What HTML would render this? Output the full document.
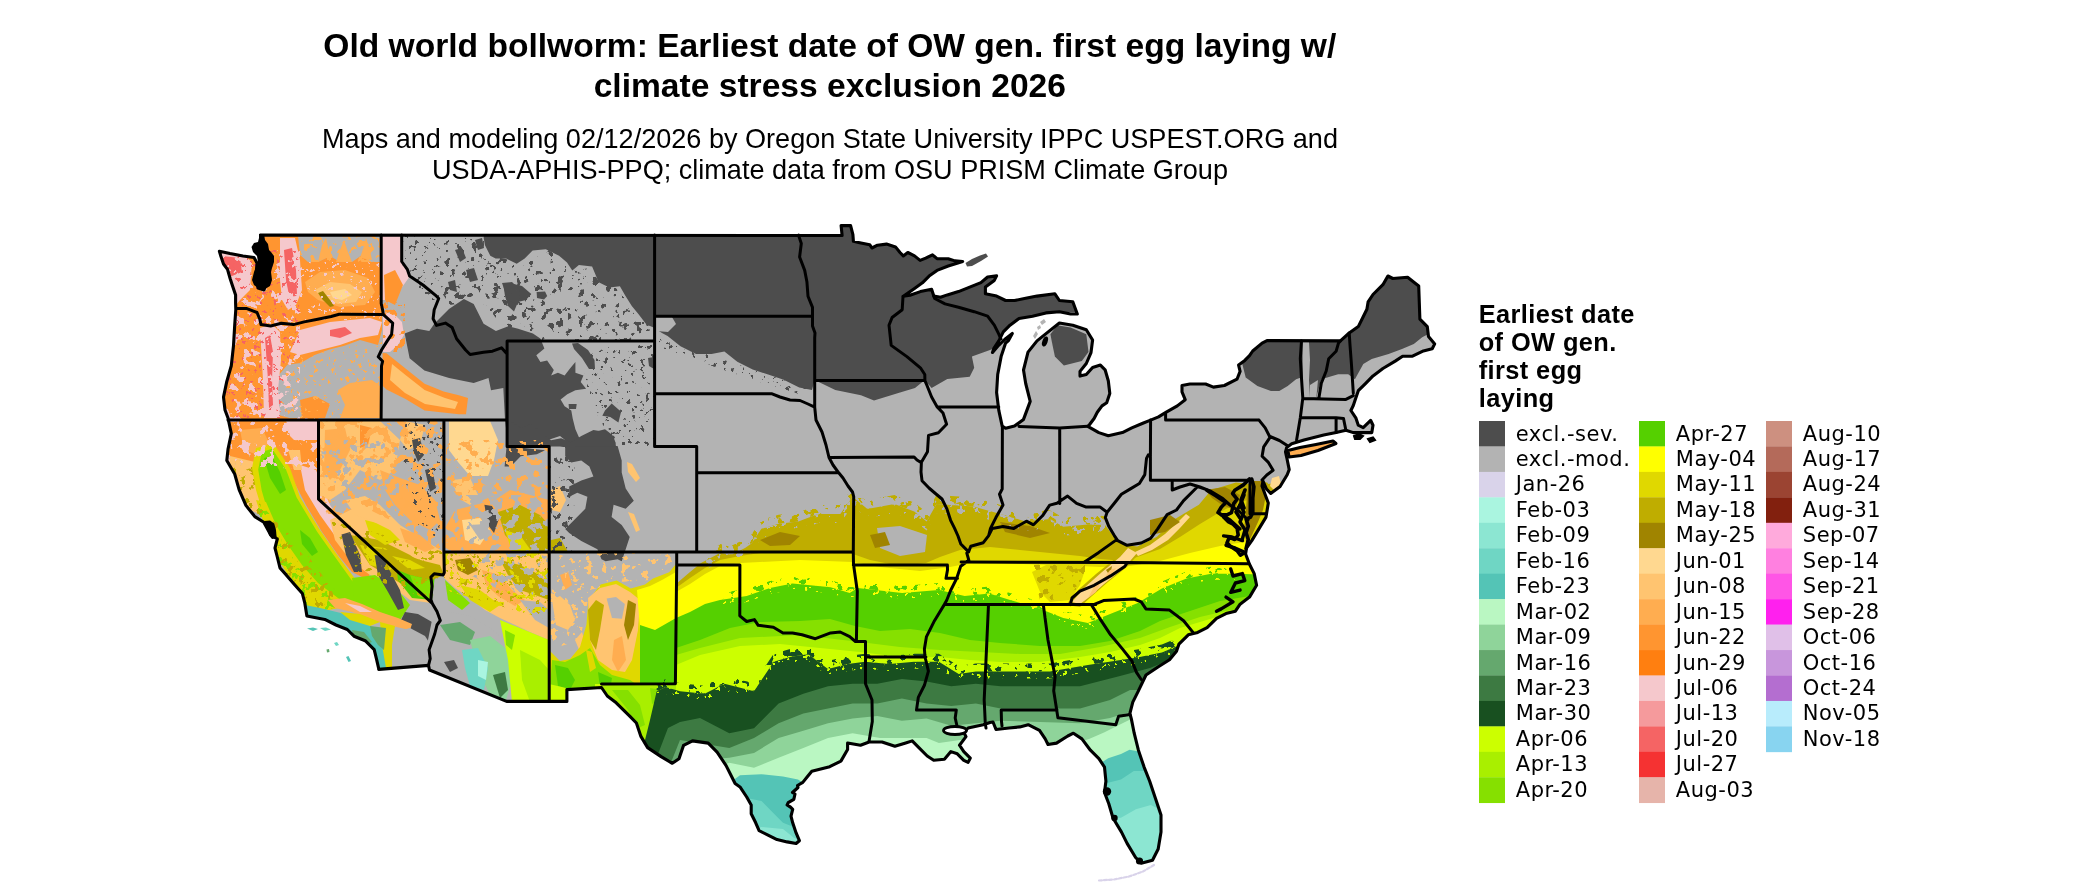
<!DOCTYPE html>
<html><head><meta charset="utf-8"><title>Old world bollworm</title>
<style>
html,body{margin:0;padding:0;background:#fff;width:2100px;height:892px;overflow:hidden}
svg{display:block}
text{-webkit-font-smoothing:antialiased}
.txt{will-change:transform}
.t{font-family:"Liberation Sans",Arial,sans-serif;font-weight:bold;font-size:33.6px;fill:#000}
.s{font-family:"Liberation Sans",Arial,sans-serif;font-size:27.08px;fill:#000}
.lt{font-family:"Liberation Sans",Arial,sans-serif;font-weight:bold;font-size:25.4px;letter-spacing:0.4px;fill:#000}
.lg{font-family:"DejaVu Sans",sans-serif;font-size:21px;letter-spacing:0.5px;fill:#000}
</style></head><body>
<svg width="2100" height="892" viewBox="0 0 2100 892">
<rect width="2100" height="892" fill="#fff"/>
<g class="txt"><text class="t" x="829.8" y="57.4" text-anchor="middle">Old world bollworm: Earliest date of OW gen. first egg laying w/</text>
<text class="t" x="829.8" y="97.4" text-anchor="middle">climate stress exclusion 2026</text>
<text class="s" x="830" y="147.6" text-anchor="middle">Maps and modeling 02/12/2026 by Oregon State University IPPC USPEST.ORG and</text>
<text class="s" x="830" y="179.3" text-anchor="middle">USDA-APHIS-PPQ; climate data from OSU PRISM Climate Group</text></g>
<defs><clipPath id="land"><path d="M260.5,235.1 L842.1,235.5 L841.1,225.6 L850.6,225.6 L852.9,234.6 L853.4,241.3 L858.5,242.4 L869.7,244.7 L871.9,248.0 L877.5,245.2 L886.5,244.1 L895.5,246.9 L900.0,252.5 L903.3,255.9 L907.8,252.5 L914.5,255.9 L920.1,260.4 L925.7,258.1 L932.5,254.8 L937.0,258.7 L948.2,258.7 L954.9,260.9 L962.7,261.5 L948.2,266.0 L937.0,270.4 L929.1,276.1 L922.4,282.8 L914.5,288.4 L903.3,296.2 L910.0,295.3 L920.4,291.6 L931.6,289.3 L933.8,296.1 L940.5,297.2 L947.3,294.9 L958.5,291.6 L969.7,287.1 L980.9,282.6 L987.6,277.0 L996.6,275.9 L994.3,280.4 L985.4,287.1 L985.4,293.8 L996.6,296.1 L1005.6,300.5 L1014.5,300.5 L1025.7,298.3 L1037.0,296.1 L1054.9,293.8 L1059.4,300.5 L1072.8,301.7 L1077.3,314.0 L1070.6,314.0 L1059.4,311.7 L1045.9,312.9 L1032.5,316.2 L1019.0,318.5 L1010.0,325.2 L1003.3,331.9 L998.8,340.9 L994.0,348.0 L992.5,352.5 L998.0,346.0 L1005.6,338.7 L1012.3,333.5 L1008.5,340.5 L1005.6,343.1 L1001.1,356.6 L997.7,374.5 L996.6,392.5 L998.8,410.4 L1002.2,426.1 L1005.6,428.3 L1014.5,426.1 L1023.5,419.4 L1030.2,401.4 L1025.7,383.5 L1023.5,370.0 L1028.0,352.1 L1037.0,340.9 L1048.2,331.9 L1059.4,323.0 L1072.8,325.2 L1086.3,329.7 L1092.6,340.0 L1091.0,352.6 L1086.3,363.5 L1080.0,371.4 L1080.0,376.1 L1086.3,374.5 L1092.6,367.5 L1100.4,365.1 L1105.1,369.8 L1108.3,380.8 L1109.8,393.4 L1106.7,402.8 L1102.0,405.9 L1097.3,412.2 L1094.1,418.5 L1089.4,424.8 L1087.8,426.3 L1098.8,432.6 L1108.3,435.8 L1122.4,432.6 L1131.8,427.9 L1142.8,423.2 L1150.6,420.1 L1158.5,416.9 L1166.3,412.2 L1177.3,405.9 L1185.2,399.7 L1182.0,391.8 L1182.0,385.5 L1189.9,384.0 L1205.6,384.0 L1213.4,387.1 L1224.4,385.5 L1237.0,379.2 L1240.1,371.4 L1238.6,365.1 L1244.8,360.4 L1249.5,355.7 L1252.7,351.0 L1262.1,343.1 L1267.0,340.6 L1340.4,340.9 L1349.2,333.0 L1358.3,326.6 L1363.2,316.7 L1366.9,309.3 L1368.1,301.9 L1373.0,294.5 L1382.9,284.7 L1387.9,276.0 L1392.8,278.5 L1407.6,277.3 L1418.7,285.9 L1419.9,319.2 L1427.3,326.6 L1428.5,336.5 L1434.7,343.9 L1432.2,348.8 L1422.4,351.3 L1412.5,356.2 L1402.6,356.2 L1395.2,361.1 L1382.9,368.5 L1373.0,375.9 L1365.7,383.3 L1358.3,390.7 L1355.8,398.1 L1353.3,405.5 L1350.9,410.5 L1355.8,417.8 L1358.3,425.2 L1363.2,427.7 L1368.1,422.8 L1370.6,420.3 L1373.0,425.2 L1371.8,432.6 L1365.7,432.6 L1353.3,432.6 L1345.9,430.2 L1336.1,432.6 L1323.7,435.1 L1304.0,440.0 L1291.7,443.7 L1286.7,447.4 L1285.5,452.0 L1286.7,457.3 L1289.2,469.6 L1287.2,474.7 L1280.1,486.5 L1270.7,493.5 L1266.5,489.0 L1263.0,481.0 L1262.0,486.0 L1265.5,495.5 L1268.3,503.0 L1266.0,517.1 L1258.9,528.9 L1251.8,540.6 L1246.5,548.0 L1245.6,554.0 L1249.5,564.2 L1254.2,573.6 L1256.6,585.3 L1249.5,597.1 L1240.1,604.2 L1235.4,611.2 L1226.0,613.6 L1216.5,618.3 L1207.1,627.7 L1197.7,632.4 L1188.3,634.8 L1178.9,644.2 L1176.5,651.3 L1169.5,659.8 L1158.0,667.0 L1146.0,675.0 L1138.4,690.8 L1132.8,702.1 L1129.9,713.4 L1131.4,719.1 L1134.2,733.2 L1138.4,750.2 L1144.1,767.1 L1149.7,781.2 L1155.4,798.2 L1161.0,815.1 L1161.0,832.1 L1158.2,849.0 L1152.5,860.3 L1141.2,863.2 L1135.6,857.5 L1127.1,843.4 L1121.5,832.1 L1113.0,818.0 L1108.8,803.8 L1104.5,792.5 L1105.9,781.2 L1104.5,767.1 L1098.9,758.6 L1090.4,750.2 L1081.9,738.9 L1073.4,733.2 L1067.8,736.0 L1056.5,743.1 L1048.0,744.5 L1045.2,738.9 L1039.5,730.4 L1028.2,724.7 L1019.8,726.9 L1009.0,728.0 L996.0,729.5 L993.0,722.0 L990.0,722.5 L983.2,724.7 L968.1,728.0 L963.8,732.3 L966.0,736.6 L959.5,745.2 L963.8,751.6 L970.3,758.1 L968.1,762.4 L963.8,760.3 L957.3,753.8 L950.9,751.6 L944.4,759.2 L933.7,760.3 L927.2,756.0 L918.6,747.3 L912.2,740.9 L905.7,743.0 L894.9,746.3 L882.0,742.0 L869.1,742.0 L860.5,745.2 L847.6,743.0 L847.6,749.5 L840.9,761.1 L829.7,766.7 L820.7,769.0 L811.8,771.2 L807.3,776.8 L802.8,782.4 L797.5,785.5 L798.0,787.5 L792.5,792.5 L795.0,794.0 L793.8,799.3 L788.2,802.6 L787.1,804.9 L790.5,807.1 L792.7,809.3 L791.0,816.1 L792.7,822.8 L796.1,832.9 L799.4,840.7 L796.1,843.5 L787.1,841.9 L777.0,839.6 L768.0,835.1 L759.1,830.7 L755.7,822.8 L751.2,813.8 L751.2,804.9 L746.7,797.0 L740.0,786.9 L735.1,783.5 L726.1,765.6 L717.1,752.1 L708.2,743.1 L692.5,740.9 L683.5,745.4 L679.0,758.8 L672.3,763.3 L661.1,756.6 L647.6,747.6 L640.9,736.4 L636.4,723.0 L629.7,716.2 L616.2,702.8 L607.3,696.0 L601.5,687.5 L566.9,689.6 L566.9,701.4 L506.6,701.4 L429.5,670.0 L428.5,665.4 L378.7,669.4 L378.7,668.7 L376.4,658.7 L374.2,649.7 L365.2,640.7 L354.0,636.2 L347.3,629.5 L336.0,625.0 L324.8,619.4 L306.9,616.0 L304.7,602.6 L302.4,593.6 L294.0,584.0 L286.2,574.9 L280.0,568.0 L277.3,557.0 L275.0,548.0 L277.3,539.0 L270.5,534.5 L263.8,522.2 L254.8,516.6 L245.9,505.4 L239.1,489.7 L234.7,474.0 L226.8,460.5 L228.0,449.3 L231.3,433.6 L228.0,418.0 L225.0,410.0 L223.5,397.1 L226.8,381.4 L231.3,365.7 L233.5,345.6 L234.7,325.4 L235.8,309.7 L235.6,303.0 L235.6,295.0 L232.9,286.9 L230.2,278.8 L227.5,269.4 L223.5,264.0 L220.8,256.0 L219.4,251.2 L230.0,253.5 L243.0,256.0 L254.0,257.5 L257.0,263.0 L256.0,276.0 L258.0,288.0 L264.0,290.0 L267.0,278.0 L270.0,264.0 L267.0,250.0 L262.0,240.0 L260.5,235.1Z"/></clipPath><filter id="sp1" x="0" y="0" width="1" height="1"><feTurbulence type="fractalNoise" baseFrequency="0.11" numOctaves="3" seed="3" result="n"/><feColorMatrix in="n" type="matrix" values="0 0 0 0 0 0 0 0 0 0 0 0 0 0 0 0 0 0 -30 13.20" result="m"/><feComposite in="SourceGraphic" in2="m" operator="in"/></filter><filter id="spA" x="0" y="0" width="1" height="1"><feTurbulence type="fractalNoise" baseFrequency="0.12" numOctaves="3" seed="13" result="n"/><feColorMatrix in="n" type="matrix" values="0 0 0 0 0 0 0 0 0 0 0 0 0 0 0 0 0 0 -30 12.60" result="m"/><feComposite in="SourceGraphic" in2="m" operator="in"/></filter><filter id="spB" x="0" y="0" width="1" height="1"><feTurbulence type="fractalNoise" baseFrequency="0.14" numOctaves="3" seed="7" result="n"/><feColorMatrix in="n" type="matrix" values="0 0 0 0 0 0 0 0 0 0 0 0 0 0 0 0 0 0 -30 11.40" result="m"/><feComposite in="SourceGraphic" in2="m" operator="in"/></filter><filter id="spC" x="0" y="0" width="1" height="1"><feTurbulence type="fractalNoise" baseFrequency="0.22" numOctaves="3" seed="11" result="n"/><feColorMatrix in="n" type="matrix" values="0 0 0 0 0 0 0 0 0 0 0 0 0 0 0 0 0 0 -30 10.20" result="m"/><feComposite in="SourceGraphic" in2="m" operator="in"/></filter><filter id="spD" x="0" y="0" width="1" height="1"><feTurbulence type="fractalNoise" baseFrequency="0.14" numOctaves="3" seed="5" result="n"/><feColorMatrix in="n" type="matrix" values="0 0 0 0 0 0 0 0 0 0 0 0 0 0 0 0 0 0 -30 13.80" result="m"/><feComposite in="SourceGraphic" in2="m" operator="in"/></filter><filter id="spE" x="0" y="0" width="1" height="1"><feTurbulence type="fractalNoise" baseFrequency="0.25" numOctaves="3" seed="17" result="n"/><feColorMatrix in="n" type="matrix" values="0 0 0 0 0 0 0 0 0 0 0 0 0 0 0 0 0 0 -30 10.80" result="m"/><feComposite in="SourceGraphic" in2="m" operator="in"/></filter><filter id="spG" x="0" y="0" width="1" height="1"><feTurbulence type="fractalNoise" baseFrequency="0.1" numOctaves="3" seed="23" result="n"/><feColorMatrix in="n" type="matrix" values="0 0 0 0 0 0 0 0 0 0 0 0 0 0 0 0 0 0 -30 13.80" result="m"/><feComposite in="SourceGraphic" in2="m" operator="in"/></filter><filter id="spH" x="0" y="0" width="1" height="1"><feTurbulence type="fractalNoise" baseFrequency="0.12" numOctaves="3" seed="29" result="n"/><feColorMatrix in="n" type="matrix" values="0 0 0 0 0 0 0 0 0 0 0 0 0 0 0 0 0 0 -30 12.60" result="m"/><feComposite in="SourceGraphic" in2="m" operator="in"/></filter></defs>
<g clip-path="url(#land)">
<rect x="200" y="200" width="1260" height="690" fill="#b3b3b3"/>
<path d="M483.7,220.0 L483.7,238.0 L485.0,245.2 L490.3,255.8 L495.6,258.5 L506.1,258.5 L516.7,263.7 L524.7,258.5 L532.6,250.5 L545.8,249.2 L559.1,255.8 L567.0,262.4 L572.3,270.4 L578.9,265.1 L592.1,266.4 L598.7,282.3 L609.3,287.6 L619.9,286.2 L625.2,295.5 L631.8,306.1 L638.4,314.0 L646.4,324.6 L653.0,327.2 L662.0,333.0 L667.6,335.9 L680.5,346.2 L696.0,354.0 L711.5,354.0 L724.4,351.4 L737.3,361.7 L752.7,369.4 L768.2,374.6 L783.7,379.7 L799.2,387.5 L812.0,390.0 L814.6,380.0 L835.3,390.0 L861.0,395.2 L874.0,400.4 L900.0,392.6 L915.0,388.0 L924.8,380.0 L931.6,388.0 L947.3,379.0 L969.7,376.8 L974.2,367.8 L971.9,356.6 L990.0,350.0 L1000.0,346.0 L1010.0,332.0 L1020.0,318.0 L1060.0,312.0 L1080.0,312.0 L1080.0,220.0Z" fill="#4d4d4d"/>
<path d="M404.7,333.6 L417.0,328.7 L429.3,331.1 L434.3,323.7 L449.0,308.9 L463.9,299.0 L473.7,304.0 L483.6,323.7 L495.9,331.1 L508.3,326.2 L518.1,328.7 L532.9,333.6 L540.3,338.5 L544.4,348.5 L536.3,355.2 L540.4,361.9 L547.1,360.6 L553.8,370.0 L551.1,375.4 L557.9,372.7 L564.6,375.4 L570.0,368.6 L575.4,361.9 L575.4,372.7 L583.4,375.4 L580.7,382.1 L586.1,388.8 L575.4,390.2 L567.3,394.2 L560.6,399.6 L564.6,406.3 L571.3,410.4 L572.7,418.4 L575.4,429.2 L580.7,441.3 L587.5,441.3 L594.2,431.9 L605.0,429.2 L611.7,434.6 L615.7,442.7 L615.7,447.0 L508.3,447.0 L505.0,420.0 L503.3,387.9 L491.0,390.3 L488.5,378.0 L473.7,382.9 L449.1,378.0 L424.4,370.6 L409.6,358.3Z" fill="#4d4d4d"/>
<path d="M503.5,286.0 L512.0,283.6 L522.0,286.0 L531.3,294.0 L526.0,300.0 L518.0,302.0 L514.0,311.4 L508.0,306.0 L505.0,296.0Z" fill="#4d4d4d"/>
<path d="M536.6,292.0 L545.0,291.5 L547.2,296.0 L544.0,299.5 L537.0,298.0Z" fill="#4d4d4d"/>
<path d="M572.0,343.5 L578.0,343.0 L588.0,350.0 L594.5,360.0 L595.0,369.0 L589.0,369.0 L582.0,358.0 L574.0,349.0Z" fill="#4d4d4d"/>
<path d="M605.0,410.4 L611.7,403.6 L621.1,411.7 L618.4,422.5 L610.3,417.1 L602.3,415.7Z" fill="#4d4d4d"/>
<path d="M648.0,358.0 L654.0,357.0 L654.0,369.0 L649.0,366.0Z" fill="#4d4d4d"/>
<path d="M568.6,404.0 L576.7,404.0 L576.0,409.0 L569.0,409.0Z" fill="#4d4d4d"/>
<path d="M512.0,432.0 L522.0,428.0 L530.0,436.0 L540.0,432.0 L548.0,440.0 L560.0,436.0 L570.0,444.0 L560.0,447.0 L515.0,447.0Z" fill="#b3b3b3"/>
<path d="M455.0,250.0 L462.0,248.0 L466.0,258.0 L460.0,262.0Z" fill="#4d4d4d"/>
<path d="M466.0,270.0 L474.0,268.0 L478.0,280.0 L470.0,282.0Z" fill="#4d4d4d"/>
<path d="M448.0,282.0 L455.0,280.0 L457.0,292.0 L450.0,290.0Z" fill="#4d4d4d"/>
<path d="M475.0,240.0 L482.0,238.0 L484.0,248.0 L478.0,250.0Z" fill="#4d4d4d"/>
<path d="M502.0,283.0 L512.0,282.0 L520.0,290.0 L518.0,305.0 L508.0,300.0Z" fill="#4d4d4d"/>
<path d="M589.7,438.0 L600.0,432.0 L614.3,436.0 L614.3,447.0 L589.7,447.0Z" fill="#4d4d4d"/>
<path d="M215.0,230.0 L382.0,230.0 L382.0,330.0 L378.0,345.0 L360.0,340.0 L344.5,345.7 L329.3,349.5 L314.1,355.2 L300.7,362.9 L287.4,364.8 L277.9,376.2 L274.0,380.0 L272.2,395.3 L276.0,414.3 L300.0,421.0 L300.0,440.0 L215.0,440.0Z" fill="#ff9530"/>
<path d="M298.0,236.0 L381.0,236.0 L381.0,262.0 L370.0,262.0 L362.0,255.0 L352.0,262.0 L340.0,262.0 L330.0,256.0 L318.0,262.0 L308.0,262.0 L300.0,255.0Z" fill="#b3b3b3"/>
<path d="M336.0,262.0 L340.0,250.0 L344.0,240.0 L348.0,252.0 L352.0,262.0Z" fill="#ffad50"/>
<path d="M318.0,262.0 L322.0,245.0 L326.0,238.0 L330.0,256.0Z" fill="#ffad50"/>
<path d="M360.0,258.0 L364.0,246.0 L366.0,238.0 L370.0,250.0 L372.0,260.0Z" fill="#ffad50"/>
<path d="M298.0,236.0 L381.0,236.0 L381.0,262.0 L298.0,262.0Z" fill="#ffad50" filter="url(#spA)"/>
<path d="M305.0,282.0 L320.0,272.0 L345.0,270.0 L368.0,278.0 L375.0,292.0 L365.0,305.0 L340.0,307.0 L318.0,300.0 L308.0,292.0Z" fill="#ffad50"/>
<path d="M315.0,290.0 L330.0,282.0 L350.0,284.0 L362.0,292.0 L356.0,302.0 L338.0,304.0 L322.0,298.0Z" fill="#ffc470"/>
<path d="M330.0,292.0 L345.0,289.0 L352.0,295.0 L342.0,300.0 L333.0,298.0Z" fill="#ffd890"/>
<path d="M318.0,293.0 L323.0,291.0 L330.0,300.0 L334.0,306.0 L330.0,307.0 L322.0,299.0Z" fill="#a08400"/>
<path d="M219.0,250.0 L245.0,256.0 L252.0,262.0 L250.0,290.0 L240.0,300.0 L236.0,305.0 L225.0,290.0 L220.0,262.0Z" fill="#f5c8cc"/>
<path d="M222.0,256.0 L240.0,258.0 L242.0,272.0 L232.0,276.0 L226.0,268.0Z" fill="#f56464"/>
<path d="M280.0,238.0 L295.0,238.0 L300.0,260.0 L302.0,290.0 L296.0,305.0 L288.0,310.0 L282.0,300.0 L280.0,280.0Z" fill="#f5c8cc"/>
<path d="M284.0,250.0 L292.0,248.0 L296.0,270.0 L297.0,295.0 L290.0,300.0 L286.0,280.0Z" fill="#f56464"/>
<path d="M382.0,236.0 L401.0,236.0 L401.0,261.0 L407.0,269.0 L410.0,276.0 L400.0,290.0 L392.0,300.0 L382.0,300.0Z" fill="#f5c8cc"/>
<path d="M384.0,275.0 L395.0,270.0 L403.0,285.0 L395.0,305.0 L385.0,300.0Z" fill="#ff9530"/>
<path d="M383.0,312.0 L394.0,314.0 L402.0,322.0 L404.0,335.0 L398.0,345.0 L390.0,352.0 L383.0,352.0Z" fill="#f5c8cc"/>
<path d="M383.0,300.0 L405.0,300.0 L405.0,352.0 L383.0,352.0Z" fill="#ff9530" filter="url(#spA)"/>
<path d="M260.0,328.0 L272.0,324.0 L280.0,332.0 L281.0,360.0 L278.0,390.0 L280.0,418.0 L264.0,418.0 L263.0,380.0Z" fill="#f5c8cc"/>
<path d="M265.0,338.0 L270.0,335.0 L273.0,352.0 L272.0,380.0 L273.0,405.0 L269.0,408.0 L268.0,380.0 L266.0,352.0Z" fill="#f56464"/>
<path d="M300.0,330.0 L330.0,322.0 L370.0,318.0 L382.0,322.0 L378.0,335.0 L360.0,338.0 L340.0,345.0 L320.0,350.0 L300.0,355.0 L290.0,352.0Z" fill="#f5c8cc"/>
<path d="M330.0,330.0 L345.0,327.0 L352.0,333.0 L340.0,338.0 L330.0,336.0Z" fill="#f56464"/>
<path d="M338.0,390.0 L350.0,383.0 L372.0,380.0 L380.0,386.0 L380.0,418.0 L340.0,418.0 L345.0,405.0Z" fill="#ffad50"/>
<path d="M300.0,400.0 L315.0,396.0 L330.0,404.0 L325.0,418.0 L302.0,418.0Z" fill="#ff9530"/>
<path d="M382.6,353.0 L386.5,353.3 L405.5,368.6 L424.6,383.8 L443.6,391.4 L458.9,395.3 L468.0,398.0 L466.0,414.3 L458.9,414.3 L424.6,410.5 L405.5,399.1 L386.5,389.5 L382.6,385.7Z" fill="#ff9530"/>
<path d="M392.0,364.0 L405.5,375.0 L424.6,390.0 L445.0,398.0 L458.0,402.0 L455.0,409.0 L425.0,404.0 L405.0,393.0 L390.0,380.0Z" fill="#ffc470"/>
<path d="M222.0,418.0 L318.5,418.0 L318.5,470.0 L300.0,470.0 L285.0,462.0 L270.0,470.0 L262.0,470.0 L250.0,478.0 L238.0,476.0 L226.0,462.0Z" fill="#ff9530"/>
<path d="M286.0,420.0 L318.5,420.0 L318.5,440.0 L300.0,446.0 L290.0,436.0Z" fill="#f5c8cc"/>
<path d="M240.0,430.0 L262.0,428.0 L270.0,445.0 L258.0,455.0 L244.0,450.0Z" fill="#ffad50"/>
<path d="M226.0,455.0 L255.0,462.0 L262.0,470.0 L266.0,500.0 L262.0,515.0 L250.0,510.0 L240.0,495.0 L232.0,478.0Z" fill="#ffc470"/>
<path d="M226.0,455.0 L266.0,455.0 L266.0,520.0 L226.0,520.0Z" fill="#bfad00" filter="url(#spA)"/>
<path d="M280.0,440.0 L318.5,440.0 L318.5,499.2 L340.0,520.0 L360.0,545.0 L372.0,565.0 L368.0,580.0 L352.0,572.0 L338.0,555.0 L322.0,532.0 L306.0,505.0 L292.0,478.0 L282.0,458.0Z" fill="#ff9530"/>
<path d="M300.0,465.0 L316.0,470.0 L330.0,505.0 L350.0,535.0 L362.0,556.0 L352.0,560.0 L338.0,540.0 L320.0,515.0 L305.0,490.0Z" fill="#f5c8cc"/>
<path d="M288.0,450.0 L300.0,450.0 L302.0,470.0 L294.0,470.0Z" fill="#ffc470"/>
<path d="M256.0,448.0 L274.0,444.0 L290.0,468.0 L300.0,497.0 L320.0,530.0 L338.0,556.0 L356.0,580.0 L370.0,594.0 L362.0,612.0 L338.0,606.0 L314.0,598.0 L292.0,576.0 L278.0,548.0 L264.0,516.0 L256.0,490.0 L252.0,468.0Z" fill="#e0d800"/>
<path d="M261.7,452.1 L272.1,448.7 L286.0,469.5 L296.5,497.3 L317.3,532.1 L334.7,556.4 L352.1,580.7 L366.0,594.6 L359.0,608.5 L338.2,601.6 L317.3,594.6 L296.5,573.8 L282.6,546.0 L268.7,514.7 L261.7,490.4 L258.2,469.5Z" fill="#86e000"/>
<path d="M264.0,458.0 L272.0,456.0 L280.0,472.0 L286.0,490.0 L280.0,494.0 L270.0,478.0Z" fill="#55d000"/>
<path d="M300.0,530.0 L310.0,538.0 L318.0,552.0 L312.0,556.0 L302.0,544.0Z" fill="#55d000"/>
<path d="M256.0,500.0 L266.0,502.0 L276.0,525.0 L288.0,545.0 L302.0,565.0 L318.0,583.0 L338.0,598.0 L348.0,606.0 L320.0,612.0 L306.0,614.0 L300.0,590.0 L286.0,572.0 L276.0,556.0 L268.0,536.0Z" fill="#e0d800"/>
<path d="M256.0,500.0 L300.0,545.0 L348.0,606.0 L300.0,614.0 L266.0,540.0Z" fill="#86e000" filter="url(#spA)"/>
<path d="M256.0,500.0 L300.0,545.0 L345.0,606.0 L300.0,614.0 L266.0,540.0Z" fill="#bfad00" filter="url(#spB)"/>
<path d="M330.0,520.0 L360.0,505.0 L400.0,525.0 L432.0,545.0 L444.0,552.0 L444.0,575.0 L432.0,578.0 L431.0,603.0 L410.0,600.0 L390.0,585.0 L370.0,575.0 L350.0,560.0 L335.0,540.0Z" fill="#ffc470"/>
<path d="M350.0,535.0 L380.0,540.0 L410.0,555.0 L430.0,570.0 L432.0,590.0 L415.0,592.0 L395.0,580.0 L370.0,565.0Z" fill="#bfad00"/>
<path d="M365.0,520.0 L385.0,525.0 L400.0,540.0 L385.0,545.0 L370.0,535.0Z" fill="#e0d800"/>
<path d="M400.0,528.0 L420.0,535.0 L435.0,548.0 L425.0,552.0 L405.0,542.0Z" fill="#ffad50"/>
<path d="M352.0,578.0 L375.0,575.0 L398.0,590.0 L410.0,605.0 L400.0,620.0 L375.0,620.0 L355.0,605.0Z" fill="#86e000"/>
<path d="M395.0,555.0 L420.0,560.0 L435.0,575.0 L432.0,600.0 L412.0,598.0 L398.0,580.0Z" fill="#55d000"/>
<path d="M360.0,545.0 L385.0,548.0 L400.0,560.0 L390.0,570.0 L370.0,565.0Z" fill="#e0d800"/>
<path d="M375.0,548.0 L400.0,552.0 L420.0,560.0 L440.0,565.0 L444.0,575.0 L432.0,580.0 L410.0,575.0 L385.0,565.0Z" fill="#bfad00"/>
<path d="M392.0,556.0 L410.0,560.0 L425.0,568.0 L410.0,570.0Z" fill="#e0d800"/>
<path d="M410.0,575.0 L432.0,580.0 L431.0,600.0 L418.0,596.0Z" fill="#86e000"/>
<path d="M341.5,534.5 L350.0,532.0 L360.0,555.0 L362.0,572.0 L354.0,572.0 L346.0,555.0Z" fill="#4d4d4d"/>
<path d="M374.6,555.0 L382.0,556.0 L392.0,575.0 L400.0,590.0 L404.0,608.0 L398.0,610.0 L388.0,592.0 L378.0,575.0Z" fill="#4d4d4d"/>
<path d="M405.0,612.0 L418.0,614.0 L432.0,622.0 L434.0,640.0 L425.0,644.0 L412.0,632.0 L400.0,622.0Z" fill="#4d4d4d"/>
<path d="M300.0,604.0 L320.0,608.0 L345.0,614.0 L362.0,620.0 L378.0,632.0 L388.0,648.0 L390.0,668.0 L376.0,668.0 L368.0,652.0 L356.0,642.0 L342.0,636.0 L328.0,630.0 L312.0,624.0 L303.0,618.0Z" fill="#54c4b6"/>
<path d="M330.0,626.0 L350.0,630.0 L362.0,640.0 L370.0,652.0 L365.0,656.0 L352.0,642.0 L338.0,634.0Z" fill="#6fd6c4"/>
<path d="M328.0,600.0 L345.0,598.0 L362.0,604.0 L380.0,612.0 L398.0,618.0 L412.0,624.0 L410.0,630.0 L392.0,626.0 L372.0,620.0 L352.0,612.0 L335.0,608.0Z" fill="#ffad50"/>
<path d="M345.0,603.0 L360.0,606.0 L372.0,612.0 L360.0,612.0Z" fill="#f5c8cc"/>
<path d="M340.0,612.0 L360.0,614.0 L380.0,622.0 L370.0,626.0 L350.0,620.0Z" fill="#e0d800"/>
<path d="M334.0,626.0 L346.0,628.0 L352.0,636.0 L344.0,640.0 L336.0,634.0Z" fill="#3d7a42"/>
<path d="M352.0,630.0 L364.0,632.0 L372.0,642.0 L362.0,646.0 L354.0,640.0Z" fill="#65a86e"/>
<path d="M395.0,632.0 L410.0,628.0 L425.0,636.0 L434.0,650.0 L430.0,666.0 L392.0,668.0 L390.0,648.0Z" fill="#b3b3b3"/>
<path d="M380.0,622.0 L395.0,626.0 L392.0,645.0 L392.0,668.0 L386.0,668.0 L382.0,645.0Z" fill="#e0d800"/>
<path d="M370.0,626.0 L386.0,628.0 L384.0,650.0 L378.0,645.0 L372.0,636.0Z" fill="#65a86e"/>
<path d="M432.0,620.0 L450.0,612.0 L470.0,616.0 L490.0,628.0 L505.0,640.0 L510.0,660.0 L515.0,700.0 L505.0,700.0 L430.0,670.0 L428.0,640.0Z" fill="#b3b3b3"/>
<path d="M440.0,625.0 L460.0,622.0 L475.0,632.0 L470.0,645.0 L450.0,640.0Z" fill="#65a86e"/>
<path d="M470.0,640.0 L490.0,636.0 L508.0,650.0 L512.0,680.0 L506.0,700.0 L490.0,695.0 L478.0,670.0Z" fill="#8fd49a"/>
<path d="M462.0,650.0 L478.0,648.0 L488.0,668.0 L484.0,690.0 L470.0,686.0 L465.0,668.0Z" fill="#6fd6c4"/>
<path d="M478.0,660.0 L488.0,662.0 L486.0,680.0 L478.0,676.0Z" fill="#aaf5e0"/>
<path d="M493.0,675.0 L505.0,672.0 L508.0,690.0 L500.0,698.0Z" fill="#3d7a42"/>
<path d="M444.0,662.0 L454.0,660.0 L458.0,668.0 L450.0,672.0Z" fill="#4d4d4d"/>
<path d="M444.0,552.0 L549.0,552.0 L549.0,640.0 L530.0,632.0 L515.0,625.0 L500.0,618.0 L485.0,610.0 L470.0,598.0 L455.0,588.0 L444.0,578.0Z" fill="#ffc470"/>
<path d="M500.0,560.0 L520.0,565.0 L540.0,575.0 L549.0,585.0 L549.0,600.0 L535.0,595.0 L520.0,590.0 L508.0,575.0Z" fill="#bfad00"/>
<path d="M455.0,560.0 L470.0,558.0 L478.0,570.0 L468.0,575.0 L458.0,570.0Z" fill="#a08400"/>
<path d="M460.0,585.0 L480.0,590.0 L500.0,605.0 L490.0,612.0 L470.0,600.0Z" fill="#e0d800"/>
<path d="M482.0,570.0 L500.0,575.0 L512.0,590.0 L525.0,600.0 L515.0,606.0 L498.0,596.0 L486.0,585.0Z" fill="#ffad50"/>
<path d="M520.0,600.0 L540.0,602.0 L549.0,610.0 L549.0,628.0 L535.0,620.0Z" fill="#b3b3b3"/>
<path d="M445.0,580.0 L458.0,592.0 L470.0,603.0 L462.0,610.0 L448.0,600.0Z" fill="#86e000"/>
<path d="M500.0,620.0 L520.0,628.0 L549.0,640.0 L549.0,702.0 L512.0,702.0 L508.0,660.0Z" fill="#ccff00"/>
<path d="M520.0,650.0 L540.0,660.0 L549.0,670.0 L549.0,702.0 L530.0,702.0 L522.0,680.0Z" fill="#a9ef00"/>
<path d="M505.0,630.0 L515.0,635.0 L512.0,650.0 L506.0,645.0Z" fill="#86e000"/>
<path d="M320.0,421.0 L380.0,421.0 L400.0,440.0 L395.0,470.0 L380.0,480.0 L360.0,470.0 L345.0,490.0 L330.0,500.0 L320.0,496.0Z" fill="#ffc470"/>
<path d="M325.0,430.0 L345.0,428.0 L350.0,450.0 L340.0,470.0 L330.0,480.0 L324.0,470.0Z" fill="#ffad50"/>
<path d="M360.0,425.0 L372.0,428.0 L368.0,445.0 L360.0,448.0Z" fill="#ff9530"/>
<path d="M405.0,421.0 L425.0,425.0 L420.0,445.0 L408.0,450.0 L400.0,440.0Z" fill="#ffc470"/>
<path d="M380.0,470.0 L400.0,478.0 L420.0,485.0 L435.0,500.0 L440.0,520.0 L430.0,530.0 L410.0,520.0 L395.0,505.0 L385.0,490.0Z" fill="#ffad50"/>
<path d="M345.0,500.0 L365.0,496.0 L380.0,505.0 L400.0,525.0 L390.0,530.0 L370.0,520.0 L355.0,515.0Z" fill="#ffc470"/>
<path d="M412.0,440.0 L420.0,438.0 L424.0,455.0 L418.0,462.0 L414.0,452.0Z" fill="#4d4d4d"/>
<path d="M425.0,470.0 L432.0,468.0 L436.0,488.0 L430.0,492.0Z" fill="#4d4d4d"/>
<path d="M449.0,421.0 L490.0,421.0 L498.0,440.0 L494.0,460.0 L488.0,476.0 L470.0,476.0 L458.0,462.0 L449.0,450.0Z" fill="#ffd890"/>
<path d="M452.0,480.0 L470.0,478.0 L478.0,495.0 L470.0,505.0 L458.0,498.0Z" fill="#ffc470"/>
<path d="M455.0,510.0 L475.0,505.0 L495.0,500.0 L510.0,490.0 L530.0,495.0 L549.0,500.0 L549.0,552.0 L444.0,552.0 L444.0,530.0Z" fill="#ffad50"/>
<path d="M498.0,512.0 L520.0,505.0 L540.0,515.0 L549.0,525.0 L549.0,552.0 L520.0,552.0 L505.0,535.0Z" fill="#bfad00"/>
<path d="M505.0,530.0 L520.0,535.0 L532.0,552.0 L512.0,552.0Z" fill="#e0d800"/>
<path d="M462.0,520.0 L480.0,518.0 L490.0,530.0 L480.0,545.0 L465.0,540.0Z" fill="#ffd890"/>
<path d="M470.0,525.0 L485.0,524.0 L492.0,535.0 L480.0,540.0Z" fill="#b3b3b3"/>
<path d="M506.6,446.2 L545.0,450.3 L536.9,454.3 L520.7,456.3 L510.6,466.4 L504.6,466.4Z" fill="#4d4d4d"/>
<path d="M484.4,504.8 L492.0,506.0 L498.5,520.0 L494.0,533.0 L488.0,525.0Z" fill="#4d4d4d"/>
<path d="M565.2,446.5 L581.3,446.0 L617.6,446.0 L621.7,460.4 L621.7,472.5 L625.7,488.6 L633.8,500.7 L625.7,508.8 L613.6,504.8 L611.6,516.9 L621.7,525.0 L629.7,537.1 L625.7,549.2 L621.7,561.3 L617.6,559.3 L605.5,561.3 L601.5,559.3 L597.4,549.2 L581.3,541.1 L569.2,533.0 L565.2,529.0 L573.2,520.9 L585.3,508.8 L587.4,496.7 L577.3,492.7 L569.2,496.7 L569.2,486.6 L581.3,480.6 L593.4,476.5 L589.4,466.4 L581.3,460.4 L571.2,462.4 L565.2,456.3Z" fill="#4d4d4d"/>
<path d="M627.0,462.0 L632.0,464.0 L640.0,478.0 L636.0,482.0 L628.0,472.0Z" fill="#ffc470"/>
<path d="M628.0,512.0 L634.0,514.0 L640.0,530.0 L636.0,532.0Z" fill="#ffc470"/>
<path d="M551.0,490.0 L560.0,486.0 L566.0,500.0 L560.0,512.0 L551.0,510.0Z" fill="#ffc470"/>
<path d="M551.0,540.0 L560.0,538.0 L568.0,552.0 L551.0,552.0Z" fill="#bfad00"/>
<path d="M508.6,420.0 L520.7,428.0 L530.8,424.0 L541.0,432.0 L551.0,440.2 L561.1,438.2 L571.2,442.2 L581.3,436.1 L593.4,430.1 L605.5,432.1 L613.6,438.2 L615.6,446.4 L508.6,446.4Z" fill="#4d4d4d"/>
<path d="M552.0,600.0 L560.0,596.0 L570.0,605.0 L575.0,620.0 L568.0,630.0 L556.0,625.0Z" fill="#ffc470"/>
<path d="M560.0,575.0 L568.0,572.0 L572.0,585.0 L565.0,590.0Z" fill="#ffad50"/>
<path d="M575.0,640.0 L582.0,632.0 L586.0,645.0 L580.0,652.0Z" fill="#ffc470"/>
<path d="M549.0,650.0 L560.0,661.0 L570.0,659.0 L580.0,647.0 L586.4,624.8 L588.4,600.6 L600.6,584.4 L616.7,580.4 L630.8,588.4 L645.0,584.4 L653.0,578.4 L669.2,572.3 L676.0,564.0 L676.0,702.0 L549.0,702.0Z" fill="#e0d800"/>
<path d="M588.0,598.0 L600.0,588.0 L616.0,584.0 L630.0,592.0 L640.0,600.0 L638.0,630.0 L632.0,660.0 L625.0,672.0 L612.0,670.0 L598.0,660.0 L590.0,640.0Z" fill="#ffc470"/>
<path d="M588.0,610.0 L596.0,600.0 L604.0,605.0 L600.0,630.0 L596.0,650.0 L590.0,640.0Z" fill="#bfad00"/>
<path d="M628.0,600.0 L636.0,604.0 L634.0,625.0 L628.0,640.0 L624.0,625.0Z" fill="#a08400"/>
<path d="M614.0,640.0 L622.0,636.0 L626.0,660.0 L618.0,672.0 L612.0,660.0Z" fill="#ffad50"/>
<path d="M606.6,598.5 L616.0,597.0 L624.8,604.0 L622.0,618.7 L612.0,618.0Z" fill="#b3b3b3"/>
<path d="M637.0,590.0 L650.0,586.0 L662.0,580.0 L676.0,572.0 L676.0,640.0 L664.0,645.0 L650.0,640.0 L640.0,630.0Z" fill="#ffff00"/>
<path d="M640.0,625.0 L655.0,630.0 L676.0,618.0 L676.0,690.0 L640.0,690.0Z" fill="#55d000"/>
<path d="M552.0,660.0 L565.0,662.0 L580.0,655.0 L590.0,648.0 L600.0,665.0 L612.0,675.0 L630.0,680.0 L645.0,690.0 L676.0,688.0 L676.0,702.0 L549.0,702.0Z" fill="#86e000"/>
<path d="M555.0,665.0 L568.0,668.0 L575.0,680.0 L570.0,690.0 L558.0,686.0Z" fill="#55d000"/>
<path d="M598.0,672.0 L612.0,678.0 L610.0,690.0 L600.0,688.0Z" fill="#55d000"/>
<path d="M586.0,650.0 L592.0,652.0 L596.0,668.0 L590.0,672.0Z" fill="#e0d800"/>
<path d="M549.0,684.0 L566.0,688.0 L566.0,702.0 L549.0,702.0Z" fill="#ccff00"/>
<path d="M595.0,900.0 L595.0,684.0 L676.0,684.0 L676.0,584.0 L676.0,584.0 L690.0,572.0 L701.0,563.0 L720.0,552.9 L731.5,554.8 L739.0,551.0 L745.0,548.0 L751.5,543.6 L761.4,528.8 L778.6,523.8 L798.4,521.4 L818.1,514.0 L840.3,514.0 L852.6,496.7 L867.4,509.0 L894.5,504.1 L914.3,511.5 L926.6,521.4 L936.5,504.1 L973.5,506.6 L1000.6,514.0 L1025.3,521.4 L1049.9,518.9 L1063.3,526.8 L1087.9,524.4 L1105.0,525.0 L1112.6,535.0 L1125.0,545.0 L1137.2,546.6 L1157.0,536.7 L1174.2,519.4 L1198.9,504.7 L1211.2,489.9 L1235.9,482.5 L1260.5,484.9 L1300.0,480.0 L1300.0,900.0Z" fill="#bfad00"/>
<path d="M877.0,528.0 L900.0,526.0 L927.0,535.0 L925.0,552.0 L900.0,556.0 L880.0,548.0Z" fill="#b3b3b3"/>
<path d="M870.0,535.0 L885.0,532.0 L890.0,545.0 L875.0,548.0Z" fill="#a08400"/>
<path d="M1000.0,522.0 L1030.0,526.0 L1050.0,533.0 L1030.0,538.0 L1005.0,532.0Z" fill="#a08400"/>
<path d="M760.0,540.0 L780.0,532.0 L800.0,536.0 L790.0,545.0 L770.0,546.0Z" fill="#a08400"/>
<path d="M595.0,900.0 L595.0,684.0 L676.0,684.0 L676.0,588.0 L676.0,588.0 L690.0,578.0 L705.0,568.0 L720.0,560.0 L740.0,556.0 L760.0,553.0 L800.0,553.0 L853.0,554.0 L870.0,560.0 L900.0,566.0 L926.0,563.0 L940.0,557.0 L960.0,550.0 L990.0,547.0 L1020.0,550.0 L1050.0,553.0 L1080.0,556.0 L1100.0,559.0 L1125.0,561.0 L1140.0,556.0 L1160.0,549.0 L1180.0,537.0 L1200.0,524.0 L1220.0,512.0 L1240.0,502.0 L1260.0,497.0 L1300.0,495.0 L1300.0,900.0Z" fill="#e0d800"/>
<path d="M595.0,900.0 L595.0,684.0 L676.0,684.0 L676.0,592.0 L676.0,592.0 L690.0,584.0 L705.0,574.0 L720.0,566.0 L740.0,563.0 L760.0,562.0 L800.0,560.0 L853.0,562.0 L880.0,567.0 L920.0,571.0 L950.0,567.0 L970.0,563.0 L1000.0,563.0 L1050.0,565.0 L1080.0,566.0 L1100.0,567.0 L1130.0,566.0 L1160.0,561.0 L1190.0,553.0 L1220.0,546.0 L1250.0,541.0 L1300.0,540.0 L1300.0,900.0Z" fill="#ffff00"/>
<path d="M1032.0,572.0 L1050.0,563.0 L1080.0,562.0 L1085.0,570.0 L1080.0,585.0 L1070.0,600.0 L1050.0,602.0 L1040.0,592.0Z" fill="#e0d800"/>
<path d="M1032.0,565.0 L1085.0,562.0 L1085.0,600.0 L1040.0,600.0Z" fill="#bfad00" filter="url(#spA)"/>
<path d="M595.0,900.0 L595.0,684.0 L676.0,684.0 L676.0,618.0 L676.0,618.0 L690.0,612.0 L705.0,604.0 L720.0,600.0 L746.7,596.0 L770.0,588.0 L792.5,583.4 L830.6,587.2 L849.7,592.9 L857.6,588.0 L902.0,593.0 L939.0,590.0 L964.7,595.9 L989.3,593.4 L1010.0,600.0 L1038.6,608.2 L1063.3,618.0 L1087.9,623.0 L1112.6,613.1 L1137.2,603.3 L1161.9,588.5 L1186.5,578.6 L1211.2,573.7 L1235.9,573.7 L1300.0,576.0 L1300.0,900.0Z" fill="#55d000"/>
<path d="M595.0,900.0 L595.0,684.0 L676.0,684.0 L676.0,648.0 L676.0,648.0 L700.0,640.0 L730.0,628.0 L760.0,622.0 L800.0,621.0 L830.0,619.0 L855.0,626.0 L880.0,631.0 L910.0,629.0 L940.0,633.0 L970.0,640.0 L1000.0,643.0 L1040.0,646.0 L1080.0,646.0 L1110.0,641.0 L1140.0,631.0 L1160.0,621.0 L1190.0,611.0 L1220.0,601.0 L1250.0,596.0 L1300.0,596.0 L1300.0,900.0Z" fill="#86e000"/>
<path d="M595.0,900.0 L595.0,684.0 L676.0,684.0 L676.0,655.0 L676.0,655.0 L700.0,648.0 L740.0,638.0 L800.0,635.0 L860.0,642.0 L900.0,647.0 L940.0,650.0 L980.0,652.0 L1020.0,654.0 L1060.0,654.0 L1100.0,647.0 L1140.0,638.0 L1170.0,627.0 L1200.0,617.0 L1230.0,610.0 L1300.0,610.0 L1300.0,900.0Z" fill="#a9ef00"/>
<path d="M595.0,900.0 L595.0,684.0 L676.0,684.0 L676.0,665.0 L676.0,665.0 L700.0,655.0 L740.0,646.0 L780.0,644.0 L820.0,648.0 L860.0,652.0 L900.0,657.0 L940.0,657.0 L970.0,660.0 L1000.0,662.0 L1040.0,662.0 L1080.0,657.0 L1110.0,652.0 L1140.0,645.0 L1160.0,638.0 L1180.0,628.0 L1200.0,622.0 L1220.0,616.0 L1300.0,616.0 L1300.0,900.0Z" fill="#ccff00"/>
<path d="M600.0,684.0 L676.0,684.0 L676.0,700.0 L660.0,705.0 L656.0,720.0 L650.0,745.0 L640.0,740.0 L630.0,718.0 L615.0,702.0 L604.0,692.0Z" fill="#a9ef00"/>
<path d="M612.0,690.0 L628.0,690.0 L640.0,705.0 L645.0,725.0 L638.0,728.0 L628.0,710.0Z" fill="#86e000"/>
<path d="M650.0,688.0 L662.0,690.0 L660.0,700.0 L652.0,704.0Z" fill="#86e000"/>
<path d="M595.0,800.0 L640.0,760.0 L650.0,720.0 L656.6,691.6 L665.6,687.1 L680.0,691.2 L704.7,693.7 L724.4,683.8 L754.0,691.2 L773.7,661.7 L791.0,656.7 L808.2,654.3 L828.0,669.0 L847.7,664.1 L865.0,661.7 L889.6,664.1 L914.3,661.7 L938.9,661.7 L958.7,674.0 L975.9,671.5 L1000.6,671.5 L1049.9,671.5 L1087.9,664.9 L1137.2,657.5 L1161.9,652.6 L1180.0,645.0 L1300.0,645.0 L1300.0,900.0 L595.0,900.0Z" fill="#185020"/>
<path d="M595.0,810.0 L650.0,775.0 L668.0,728.0 L680.0,722.0 L700.0,718.0 L729.3,733.2 L754.0,728.2 L778.6,703.6 L803.3,693.7 L828.0,686.3 L852.6,683.8 L877.3,683.8 L901.9,678.9 L926.6,681.4 L951.3,686.3 L975.9,683.8 L1000.6,686.3 L1080.0,686.3 L1120.0,676.0 L1150.0,668.0 L1170.0,660.0 L1300.0,660.0 L1300.0,900.0 L595.0,900.0Z" fill="#3d7a42"/>
<path d="M595.0,820.0 L660.0,790.0 L680.0,740.0 L729.3,748.0 L754.0,738.1 L778.6,723.3 L803.3,713.4 L828.0,708.5 L852.6,703.6 L877.3,703.6 L901.9,698.6 L926.6,703.6 L951.3,706.0 L975.9,703.6 L1000.6,708.5 L1080.0,708.5 L1110.0,700.0 L1130.0,690.0 L1300.0,690.0 L1300.0,900.0 L595.0,900.0Z" fill="#65a86e"/>
<path d="M595.0,830.0 L680.0,790.0 L700.0,760.0 L729.3,757.8 L754.0,752.9 L778.6,738.1 L803.3,730.7 L828.0,723.3 L852.6,718.4 L877.3,715.9 L901.9,720.8 L926.6,718.4 L951.3,725.8 L1000.6,720.8 L1080.0,723.3 L1110.0,718.0 L1130.0,712.0 L1300.0,712.0 L1300.0,900.0 L595.0,900.0Z" fill="#8fd49a"/>
<path d="M595.0,840.0 L700.0,775.0 L729.3,762.8 L754.0,767.7 L778.6,757.8 L803.3,748.0 L828.0,738.1 L852.6,733.2 L880.0,738.0 L926.6,738.1 L938.9,743.0 L960.0,740.0 L1000.0,740.0 L1040.0,745.0 L1060.0,748.0 L1089.0,739.0 L1104.0,732.6 L1125.0,722.0 L1133.8,717.7 L1300.0,717.0 L1300.0,900.0 L595.0,900.0Z" fill="#baf7c2"/>
<path d="M595.0,850.0 L720.0,790.0 L740.0,775.3 L761.5,774.2 L783.0,776.4 L798.0,779.6 L830.0,800.0 L900.0,800.0 L1000.0,800.0 L1090.0,770.0 L1108.2,758.2 L1121.0,754.0 L1129.5,749.7 L1140.0,751.8 L1300.0,752.0 L1300.0,900.0 L595.0,900.0Z" fill="#54c4b6"/>
<path d="M595.0,860.0 L740.0,796.8 L761.5,801.1 L772.3,811.9 L783.0,822.7 L793.8,827.0 L830.0,830.0 L1000.0,830.0 L1100.0,790.0 L1104.0,783.8 L1121.0,779.5 L1133.8,771.0 L1146.5,771.0 L1300.0,771.0 L1300.0,900.0 L595.0,900.0Z" fill="#6fd6c4"/>
<path d="M595.0,870.0 L761.5,827.0 L783.0,829.1 L793.8,837.7 L830.0,850.0 L1100.0,850.0 L1115.0,818.0 L1121.0,817.8 L1135.9,809.3 L1150.8,805.0 L1159.3,809.3 L1300.0,809.0 L1300.0,900.0 L595.0,900.0Z" fill="#8ce6d2"/>
<path d="M1230.0,330.0 L1242.3,364.1 L1245.7,377.6 L1257.4,386.0 L1270.9,391.0 L1279.3,391.0 L1287.7,386.0 L1296.1,379.3 L1301.1,377.6 L1304.5,397.8 L1316.3,397.8 L1321.3,379.3 L1338.1,374.2 L1348.2,374.2 L1354.9,379.3 L1363.3,364.1 L1371.7,359.1 L1388.6,354.1 L1402.0,349.0 L1413.8,344.0 L1422.2,337.2 L1425.5,335.6 L1440.0,330.0 L1440.0,260.0 L1230.0,260.0Z" fill="#4d4d4d"/>
<path d="M1302.5,342.0 L1309.0,342.0 L1310.0,360.0 L1309.0,380.0 L1310.0,397.8 L1303.0,397.8Z" fill="#b3b3b3"/>
<path d="M1310.0,385.0 L1318.0,380.0 L1316.3,397.8 L1310.0,397.8Z" fill="#b3b3b3"/>
<path d="M1057.1,325.2 L1070.6,327.4 L1086.3,334.2 L1088.5,352.1 L1081.8,361.1 L1063.9,365.6 L1054.9,356.6 L1052.6,345.4 L1050.4,334.2Z" fill="#4d4d4d"/>
<path d="M1130.0,545.0 L1142.0,550.0 L1128.0,566.0 L1108.0,582.0 L1092.0,596.0 L1080.0,607.0 L1066.0,605.0 L1078.0,590.0 L1096.0,574.0 L1116.0,558.0Z" fill="#bfad00"/>
<path d="M1128.0,548.0 L1137.0,553.0 L1124.0,568.0 L1104.0,584.0 L1088.0,598.0 L1080.0,604.0 L1072.0,602.0 L1084.0,588.0 L1102.0,572.0 L1120.0,557.0Z" fill="#ffd890"/>
<path d="M1095.0,585.0 L1102.0,580.0 L1096.0,592.0 L1088.0,598.0Z" fill="#ffc470"/>
<path d="M1106.0,570.0 L1112.0,566.0 L1110.0,576.0Z" fill="#a08400"/>
<path d="M1110.0,570.0 L1116.0,568.0 L1108.0,580.0 L1100.0,584.0Z" fill="#ffc470"/>
<path d="M1135.0,552.0 L1150.0,545.0 L1165.0,534.0 L1178.0,522.0 L1186.0,514.0 L1190.0,517.0 L1180.0,528.0 L1168.0,540.0 L1152.0,550.0 L1138.0,556.0Z" fill="#ffd890"/>
<path d="M1150.0,520.0 L1170.0,515.0 L1180.0,522.0 L1165.0,532.0 L1150.0,535.0Z" fill="#a08400"/>
<path d="M1250.0,481.0 L1262.0,481.0 L1266.0,495.0 L1263.0,510.0 L1258.0,522.0 L1252.0,535.0 L1247.0,545.0 L1244.0,530.0 L1246.0,510.0 L1247.0,495.0Z" fill="#a08400"/>
<path d="M1205.0,490.0 L1225.0,487.0 L1240.0,495.0 L1235.0,510.0 L1222.0,505.0 L1212.0,498.0Z" fill="#a08400"/>
<path d="M1272.0,478.0 L1279.0,476.0 L1281.0,484.0 L1274.0,490.0 L1270.0,486.0Z" fill="#ffd890"/>
<path d="M1262.0,481.0 L1268.0,483.0 L1266.0,490.0Z" fill="#bfad00"/>
<path d="M655.0,317.0 L672.0,317.0 L676.0,324.0 L668.0,332.0 L656.0,331.0Z" fill="#b3b3b3"/>
<path d="M320.0,421.0 L444.0,421.0 L444.0,552.0 L432.0,545.0 L400.0,525.0 L360.0,505.0 L330.0,520.0 L320.0,500.0Z" fill="#ffad50" filter="url(#sp1)"/>
<path d="M440.0,236.0 L486.0,236.0 L490.0,256.0 L506.0,259.0 L516.0,264.0 L532.0,251.0 L546.0,249.0 L560.0,256.0 L572.0,271.0 L590.0,268.0 L600.0,283.0 L620.0,287.0 L640.0,318.0 L654.0,328.0 L654.0,340.0 L540.0,340.0 L505.0,328.0 L480.0,300.0 L450.0,305.0 L440.0,290.0Z" fill="#4d4d4d" filter="url(#spB)"/>
<path d="M401.0,236.0 L440.0,236.0 L440.0,300.0 L430.0,300.0 L410.0,280.0 L401.0,262.0Z" fill="#4d4d4d" filter="url(#spC)"/>
<path d="M576.0,345.0 L654.0,345.0 L654.0,446.0 L616.0,446.0 L600.0,420.0 L586.0,390.0 L584.0,370.0Z" fill="#4d4d4d" filter="url(#spC)"/>
<path d="M400.0,421.0 L444.0,421.0 L444.0,540.0 L420.0,530.0 L405.0,480.0Z" fill="#4d4d4d" filter="url(#spC)"/>
<path d="M446.0,440.0 L549.0,440.0 L549.0,500.0 L520.0,495.0 L490.0,505.0 L460.0,500.0 L446.0,480.0Z" fill="#ffad50" filter="url(#spA)"/>
<path d="M549.0,446.0 L575.0,446.0 L575.0,552.0 L549.0,552.0Z" fill="#4d4d4d" filter="url(#spB)"/>
<path d="M219.0,250.0 L300.0,250.0 L300.0,418.0 L222.0,418.0Z" fill="#f5c8cc" filter="url(#spA)"/>
<path d="M219.0,250.0 L300.0,250.0 L300.0,418.0 L222.0,418.0Z" fill="#f56464" filter="url(#spC)"/>
<path d="M300.0,262.0 L382.0,262.0 L382.0,320.0 L300.0,320.0Z" fill="#f5c8cc" filter="url(#spC)"/>
<path d="M285.0,360.0 L382.0,340.0 L382.0,418.0 L280.0,418.0Z" fill="#ffad50" filter="url(#spC)"/>
<path d="M222.0,418.0 L318.0,418.0 L318.0,470.0 L226.0,465.0Z" fill="#f5c8cc" filter="url(#spA)"/>
<path d="M330.0,520.0 L444.0,552.0 L432.0,600.0 L360.0,575.0Z" fill="#bfad00" filter="url(#spB)"/>
<path d="M444.0,552.0 L549.0,552.0 L549.0,620.0 L444.0,590.0Z" fill="#e0d800" filter="url(#spB)"/>
<path d="M444.0,552.0 L549.0,552.0 L549.0,620.0 L444.0,590.0Z" fill="#bfad00" filter="url(#spC)"/>
<path d="M549.0,552.0 L676.0,552.0 L676.0,565.0 L650.0,580.0 L620.0,582.0 L590.0,590.0 L580.0,640.0 L549.0,650.0Z" fill="#ffc470" filter="url(#spB)"/>
<path d="M654.0,335.0 L700.0,352.0 L760.0,372.0 L812.0,390.0 L812.0,398.0 L760.0,382.0 L700.0,362.0 L654.0,345.0Z" fill="#4d4d4d" filter="url(#spC)"/>
<path d="M701.0,554.0 L720.0,543.9 L731.5,545.8 L739.0,542.0 L745.0,539.0 L751.5,534.6 L761.4,519.8 L778.6,514.8 L798.4,512.4 L818.1,505.0 L840.3,505.0 L852.6,487.7 L867.4,500.0 L894.5,495.1 L914.3,502.5 L926.6,512.4 L936.5,495.1 L973.5,497.6 L1000.6,505.0 L1025.3,512.4 L1049.9,509.9 L1063.3,517.8 L1087.9,515.4 L1105.0,516.0 L1105.0,525.0 L1087.9,524.4 L1063.3,526.8 L1049.9,518.9 L1025.3,521.4 L1000.6,514.0 L973.5,506.6 L936.5,504.1 L926.6,521.4 L914.3,511.5 L894.5,504.1 L867.4,509.0 L852.6,496.7 L840.3,514.0 L818.1,514.0 L798.4,521.4 L778.6,523.8 L761.4,528.8 L751.5,543.6 L745.0,548.0 L739.0,551.0 L731.5,554.8 L720.0,552.9 L701.0,563.0Z" fill="#bfad00" filter="url(#spA)"/>
<path d="M701.0,563.0 L720.0,552.9 L731.5,554.8 L739.0,551.0 L745.0,548.0 L751.5,543.6 L761.4,528.8 L778.6,523.8 L798.4,521.4 L818.1,514.0 L840.3,514.0 L852.6,496.7 L867.4,509.0 L894.5,504.1 L914.3,511.5 L926.6,521.4 L936.5,504.1 L973.5,506.6 L1000.6,514.0 L1025.3,521.4 L1049.9,518.9 L1063.3,526.8 L1087.9,524.4 L1105.0,525.0 L1105.0,534.0 L1087.9,533.4 L1063.3,535.8 L1049.9,527.9 L1025.3,530.4 L1000.6,523.0 L973.5,515.6 L936.5,513.1 L926.6,530.4 L914.3,520.5 L894.5,513.1 L867.4,518.0 L852.6,505.7 L840.3,523.0 L818.1,523.0 L798.4,530.4 L778.6,532.8 L761.4,537.8 L751.5,552.6 L745.0,557.0 L739.0,560.0 L731.5,563.8 L720.0,561.9 L701.0,572.0Z" fill="#b3b3b3" filter="url(#spB)"/>
<path d="M656.6,683.6 L665.6,679.1 L680.0,683.2 L704.7,685.7 L724.4,675.8 L754.0,683.2 L773.7,653.7 L791.0,648.7 L808.2,646.3 L828.0,661.0 L847.7,656.1 L865.0,653.7 L889.6,656.1 L914.3,653.7 L938.9,653.7 L958.7,666.0 L975.9,663.5 L1000.6,663.5 L1049.9,663.5 L1087.9,656.9 L1137.2,649.5 L1161.9,644.6 L1180.0,637.0 L1180.0,645.0 L1161.9,652.6 L1137.2,657.5 L1087.9,664.9 L1049.9,671.5 L1000.6,671.5 L975.9,671.5 L958.7,674.0 L938.9,661.7 L914.3,661.7 L889.6,664.1 L865.0,661.7 L847.7,664.1 L828.0,669.0 L808.2,654.3 L791.0,656.7 L773.7,661.7 L754.0,691.2 L724.4,683.8 L704.7,693.7 L680.0,691.2 L665.6,687.1 L656.6,691.6Z" fill="#185020" filter="url(#spA)"/>
<path d="M656.6,691.6 L665.6,687.1 L680.0,691.2 L704.7,693.7 L724.4,683.8 L754.0,691.2 L773.7,661.7 L791.0,656.7 L808.2,654.3 L828.0,669.0 L847.7,664.1 L865.0,661.7 L889.6,664.1 L914.3,661.7 L938.9,661.7 L958.7,674.0 L975.9,671.5 L1000.6,671.5 L1049.9,671.5 L1087.9,664.9 L1137.2,657.5 L1161.9,652.6 L1180.0,645.0 L1180.0,652.0 L1161.9,659.6 L1137.2,664.5 L1087.9,671.9 L1049.9,678.5 L1000.6,678.5 L975.9,678.5 L958.7,681.0 L938.9,668.7 L914.3,668.7 L889.6,671.1 L865.0,668.7 L847.7,671.1 L828.0,676.0 L808.2,661.3 L791.0,663.7 L773.7,668.7 L754.0,698.2 L724.4,690.8 L704.7,700.7 L680.0,698.2 L665.6,694.1 L656.6,698.6Z" fill="#ccff00" filter="url(#spC)"/>
<path d="M720.0,593.0 L746.7,589.0 L770.0,581.0 L792.5,576.4 L830.6,580.2 L849.7,585.9 L857.6,581.0 L902.0,586.0 L939.0,583.0 L964.7,588.9 L989.3,586.4 L1010.0,593.0 L1038.6,601.2 L1063.3,611.0 L1087.9,616.0 L1112.6,606.1 L1137.2,596.3 L1161.9,581.5 L1186.5,571.6 L1211.2,566.7 L1235.9,566.7 L1235.9,573.7 L1211.2,573.7 L1186.5,578.6 L1161.9,588.5 L1137.2,603.3 L1112.6,613.1 L1087.9,623.0 L1063.3,618.0 L1038.6,608.2 L1010.0,600.0 L989.3,593.4 L964.7,595.9 L939.0,590.0 L902.0,593.0 L857.6,588.0 L849.7,592.9 L830.6,587.2 L792.5,583.4 L770.0,588.0 L746.7,596.0 L720.0,600.0Z" fill="#55d000" filter="url(#spB)"/>
<path d="M720.0,600.0 L746.7,596.0 L770.0,588.0 L792.5,583.4 L830.6,587.2 L849.7,592.9 L857.6,588.0 L902.0,593.0 L939.0,590.0 L964.7,595.9 L989.3,593.4 L1010.0,600.0 L1038.6,608.2 L1063.3,618.0 L1087.9,623.0 L1112.6,613.1 L1137.2,603.3 L1161.9,588.5 L1186.5,578.6 L1211.2,573.7 L1235.9,573.7 L1235.9,579.7 L1211.2,579.7 L1186.5,584.6 L1161.9,594.5 L1137.2,609.3 L1112.6,619.1 L1087.9,629.0 L1063.3,624.0 L1038.6,614.2 L1010.0,606.0 L989.3,599.4 L964.7,601.9 L939.0,596.0 L902.0,599.0 L857.6,594.0 L849.7,598.9 L830.6,593.2 L792.5,589.4 L770.0,594.0 L746.7,602.0 L720.0,606.0Z" fill="#ffff00" filter="url(#spC)"/>
<path d="M455.0,495.0 L549.0,495.0 L549.0,552.0 L444.0,552.0 L444.0,510.0Z" fill="#b3b3b3" filter="url(#spG)"/>
<path d="M470.0,552.0 L549.0,552.0 L549.0,600.0 L500.0,590.0 L470.0,575.0Z" fill="#b3b3b3" filter="url(#spH)"/>
<path d="M320.0,440.0 L400.0,440.0 L410.0,500.0 L360.0,500.0 L325.0,480.0Z" fill="#b3b3b3" filter="url(#spH)"/>
</g>
<path d="M965.5,263.0 L972.0,259.0 L980.0,255.5 L986.0,253.5 L988.0,256.5 L981.0,261.0 L972.0,266.0 L967.0,266.5Z" fill="#4d4d4d"/>
<path d="M307.0,628.5 L313.0,627.5 L318.0,629.0 L313.0,631.0Z" fill="#54c4b6"/>
<path d="M320.0,628.0 L326.0,627.5 L331.0,629.5 L325.0,631.0Z" fill="#6fd6c4"/>
<path d="M326.5,649.5 L329.0,649.0 L329.5,652.0 L327.0,652.5Z" fill="#65a86e"/>
<path d="M346.0,657.0 L348.5,656.0 L351.0,661.0 L348.5,662.0Z" fill="#54c4b6"/>
<path d="M334.0,643.0 L337.0,642.0 L339.0,645.0 L336.0,646.0Z" fill="#6fd6c4"/>
<path d="M260.5,235.1 L842.1,235.5 L841.1,225.6 L850.6,225.6 L852.9,234.6 L853.4,241.3 L858.5,242.4 L869.7,244.7 L871.9,248.0 L877.5,245.2 L886.5,244.1 L895.5,246.9 L900.0,252.5 L903.3,255.9 L907.8,252.5 L914.5,255.9 L920.1,260.4 L925.7,258.1 L932.5,254.8 L937.0,258.7 L948.2,258.7 L954.9,260.9 L962.7,261.5 L948.2,266.0 L937.0,270.4 L929.1,276.1 L922.4,282.8 L914.5,288.4 L903.3,296.2 L910.0,295.3 L920.4,291.6 L931.6,289.3 L933.8,296.1 L940.5,297.2 L947.3,294.9 L958.5,291.6 L969.7,287.1 L980.9,282.6 L987.6,277.0 L996.6,275.9 L994.3,280.4 L985.4,287.1 L985.4,293.8 L996.6,296.1 L1005.6,300.5 L1014.5,300.5 L1025.7,298.3 L1037.0,296.1 L1054.9,293.8 L1059.4,300.5 L1072.8,301.7 L1077.3,314.0 L1070.6,314.0 L1059.4,311.7 L1045.9,312.9 L1032.5,316.2 L1019.0,318.5 L1010.0,325.2 L1003.3,331.9 L998.8,340.9 L994.0,348.0 L992.5,352.5 L998.0,346.0 L1005.6,338.7 L1012.3,333.5 L1008.5,340.5 L1005.6,343.1 L1001.1,356.6 L997.7,374.5 L996.6,392.5 L998.8,410.4 L1002.2,426.1 L1005.6,428.3 L1014.5,426.1 L1023.5,419.4 L1030.2,401.4 L1025.7,383.5 L1023.5,370.0 L1028.0,352.1 L1037.0,340.9 L1048.2,331.9 L1059.4,323.0 L1072.8,325.2 L1086.3,329.7 L1092.6,340.0 L1091.0,352.6 L1086.3,363.5 L1080.0,371.4 L1080.0,376.1 L1086.3,374.5 L1092.6,367.5 L1100.4,365.1 L1105.1,369.8 L1108.3,380.8 L1109.8,393.4 L1106.7,402.8 L1102.0,405.9 L1097.3,412.2 L1094.1,418.5 L1089.4,424.8 L1087.8,426.3 L1098.8,432.6 L1108.3,435.8 L1122.4,432.6 L1131.8,427.9 L1142.8,423.2 L1150.6,420.1 L1158.5,416.9 L1166.3,412.2 L1177.3,405.9 L1185.2,399.7 L1182.0,391.8 L1182.0,385.5 L1189.9,384.0 L1205.6,384.0 L1213.4,387.1 L1224.4,385.5 L1237.0,379.2 L1240.1,371.4 L1238.6,365.1 L1244.8,360.4 L1249.5,355.7 L1252.7,351.0 L1262.1,343.1 L1267.0,340.6 L1340.4,340.9 L1349.2,333.0 L1358.3,326.6 L1363.2,316.7 L1366.9,309.3 L1368.1,301.9 L1373.0,294.5 L1382.9,284.7 L1387.9,276.0 L1392.8,278.5 L1407.6,277.3 L1418.7,285.9 L1419.9,319.2 L1427.3,326.6 L1428.5,336.5 L1434.7,343.9 L1432.2,348.8 L1422.4,351.3 L1412.5,356.2 L1402.6,356.2 L1395.2,361.1 L1382.9,368.5 L1373.0,375.9 L1365.7,383.3 L1358.3,390.7 L1355.8,398.1 L1353.3,405.5 L1350.9,410.5 L1355.8,417.8 L1358.3,425.2 L1363.2,427.7 L1368.1,422.8 L1370.6,420.3 L1373.0,425.2 L1371.8,432.6 L1365.7,432.6 L1353.3,432.6 L1345.9,430.2 L1336.1,432.6 L1323.7,435.1 L1304.0,440.0 L1291.7,443.7 L1286.7,447.4 L1285.5,452.0 L1286.7,457.3 L1289.2,469.6 L1287.2,474.7 L1280.1,486.5 L1270.7,493.5 L1266.5,489.0 L1263.0,481.0 L1262.0,486.0 L1265.5,495.5 L1268.3,503.0 L1266.0,517.1 L1258.9,528.9 L1251.8,540.6 L1246.5,548.0 L1245.6,554.0 L1249.5,564.2 L1254.2,573.6 L1256.6,585.3 L1249.5,597.1 L1240.1,604.2 L1235.4,611.2 L1226.0,613.6 L1216.5,618.3 L1207.1,627.7 L1197.7,632.4 L1188.3,634.8 L1178.9,644.2 L1176.5,651.3 L1169.5,659.8 L1158.0,667.0 L1146.0,675.0 L1138.4,690.8 L1132.8,702.1 L1129.9,713.4 L1131.4,719.1 L1134.2,733.2 L1138.4,750.2 L1144.1,767.1 L1149.7,781.2 L1155.4,798.2 L1161.0,815.1 L1161.0,832.1 L1158.2,849.0 L1152.5,860.3 L1141.2,863.2 L1135.6,857.5 L1127.1,843.4 L1121.5,832.1 L1113.0,818.0 L1108.8,803.8 L1104.5,792.5 L1105.9,781.2 L1104.5,767.1 L1098.9,758.6 L1090.4,750.2 L1081.9,738.9 L1073.4,733.2 L1067.8,736.0 L1056.5,743.1 L1048.0,744.5 L1045.2,738.9 L1039.5,730.4 L1028.2,724.7 L1019.8,726.9 L1009.0,728.0 L996.0,729.5 L993.0,722.0 L990.0,722.5 L983.2,724.7 L968.1,728.0 L963.8,732.3 L966.0,736.6 L959.5,745.2 L963.8,751.6 L970.3,758.1 L968.1,762.4 L963.8,760.3 L957.3,753.8 L950.9,751.6 L944.4,759.2 L933.7,760.3 L927.2,756.0 L918.6,747.3 L912.2,740.9 L905.7,743.0 L894.9,746.3 L882.0,742.0 L869.1,742.0 L860.5,745.2 L847.6,743.0 L847.6,749.5 L840.9,761.1 L829.7,766.7 L820.7,769.0 L811.8,771.2 L807.3,776.8 L802.8,782.4 L797.5,785.5 L798.0,787.5 L792.5,792.5 L795.0,794.0 L793.8,799.3 L788.2,802.6 L787.1,804.9 L790.5,807.1 L792.7,809.3 L791.0,816.1 L792.7,822.8 L796.1,832.9 L799.4,840.7 L796.1,843.5 L787.1,841.9 L777.0,839.6 L768.0,835.1 L759.1,830.7 L755.7,822.8 L751.2,813.8 L751.2,804.9 L746.7,797.0 L740.0,786.9 L735.1,783.5 L726.1,765.6 L717.1,752.1 L708.2,743.1 L692.5,740.9 L683.5,745.4 L679.0,758.8 L672.3,763.3 L661.1,756.6 L647.6,747.6 L640.9,736.4 L636.4,723.0 L629.7,716.2 L616.2,702.8 L607.3,696.0 L601.5,687.5 L566.9,689.6 L566.9,701.4 L506.6,701.4 L429.5,670.0 L428.5,665.4 L378.7,669.4 L378.7,668.7 L376.4,658.7 L374.2,649.7 L365.2,640.7 L354.0,636.2 L347.3,629.5 L336.0,625.0 L324.8,619.4 L306.9,616.0 L304.7,602.6 L302.4,593.6 L294.0,584.0 L286.2,574.9 L280.0,568.0 L277.3,557.0 L275.0,548.0 L277.3,539.0 L270.5,534.5 L263.8,522.2 L254.8,516.6 L245.9,505.4 L239.1,489.7 L234.7,474.0 L226.8,460.5 L228.0,449.3 L231.3,433.6 L228.0,418.0 L225.0,410.0 L223.5,397.1 L226.8,381.4 L231.3,365.7 L233.5,345.6 L234.7,325.4 L235.8,309.7 L235.6,303.0 L235.6,295.0 L232.9,286.9 L230.2,278.8 L227.5,269.4 L223.5,264.0 L220.8,256.0 L219.4,251.2 L230.0,253.5 L243.0,256.0 L254.0,257.5 L257.0,263.0 L256.0,276.0 L258.0,288.0 L264.0,290.0 L267.0,278.0 L270.0,264.0 L267.0,250.0 L262.0,240.0 L260.5,235.1Z" fill="none" stroke="#000" stroke-width="3.1" stroke-linejoin="round"/>
<path d="M236.5,308.4 L246.3,308.4 L257.0,312.5 L259.8,319.2 L261.0,324.6 L270.6,326.0 L281.3,323.3 L293.4,324.6 L304.2,321.9 L317.7,319.2 L331.1,316.5 L339.2,314.3 L344.6,314.3 L383.4,314.6 M381.2,235.1 L381.2,303.5 L382.6,310.0 L383.4,314.6 M383.4,314.6 L392.7,323.1 L391.6,334.3 L387.1,341.1 L381.5,350.0 L378.2,356.8 L382.6,361.3 L381.5,366.0 L381.1,420.1 M228.0,420.1 L507.1,420.1 M401.7,235.1 L401.7,261.5 L407.3,269.3 L409.6,276.0 L423.0,285.0 L436.5,296.2 L438.7,298.5 L434.2,309.7 L433.1,318.7 L436.5,325.4 L445.4,323.1 L452.2,327.6 L456.6,338.8 L465.6,350.0 L470.1,354.5 L483.5,352.3 L492.5,351.2 L501.5,347.8 L507.1,354.1 M507.1,340.9 L507.1,446.4 L549.2,446.4 M507.1,340.9 L654.6,340.9 M654.6,235.1 L654.6,446.4 L696.7,446.4 L696.7,472.8 M549.2,446.4 L549.2,551.9 L696.7,551.9 L696.7,472.8 M696.7,472.8 L838.7,472.8 M443.9,420.1 L443.9,551.9 L549.2,551.9 M443.9,551.9 L444.3,572.6 L443.2,574.9 L434.2,573.8 L430.9,577.1 L432.0,586.1 L430.9,599.6 L432.3,603.5 M318.5,420.1 L318.5,499.2 L432.3,603.5 M432.3,603.5 L437.0,611.6 L440.3,620.5 L437.0,625.0 L434.7,634.0 L429.1,649.7 L430.2,658.7 L428.5,665.4 M549.2,551.9 L549.2,701.4 M676.7,551.9 L676.7,565.1 L675.4,683.8 L601.5,684.0 M676.7,565.1 L739.9,565.1 L739.8,615.8 M739.8,615.8 L746.7,621.5 L754.4,619.6 L758.2,625.3 L773.4,627.2 L783.0,633.0 L792.5,633.0 L802.0,634.8 L815.4,638.7 L830.6,632.9 L840.2,632.0 L849.7,636.7 L855.4,641.5 L865.5,641.5 M696.7,551.9 L853.3,551.9 L853.5,564.3 L857.3,591.0 L856.4,641.0 M865.5,641.5 L865.5,656.9 L865.5,683.8 L872.0,700.0 L872.3,721.5 L869.1,741.0 M865.5,656.9 L925.9,656.9 M654.6,316.2 L812.5,316.2 M654.6,393.7 L771.5,393.7 L780.0,397.0 L790.0,400.0 L800.0,400.5 L808.0,404.0 L814.7,407.1 M814.7,407.1 L816.0,420.0 L822.0,432.0 L826.0,445.0 L829.0,457.5 L833.0,465.0 L838.7,472.8 M838.7,472.8 L843.0,478.0 L848.0,486.0 L852.5,492.0 L853.7,496.6 L853.3,551.9 M829.0,457.5 L914.1,457.0 L917.0,460.0 L921.0,462.5 M798.5,235.1 L801.3,243.5 L799.6,257.0 L804.7,270.4 L806.9,281.7 L808.0,296.2 L812.5,307.4 L812.5,316.2 L812.5,326.0 L815.0,333.0 L814.7,338.0 L814.7,380.6 L814.7,407.1 M814.7,380.6 L924.9,380.5 M903.0,296.5 L902.2,309.7 L892.1,317.5 L889.0,325.2 L891.2,345.4 L906.9,356.6 L920.4,367.8 L924.8,374.5 L924.9,380.6 M924.9,380.6 L927.1,385.7 L931.6,397.0 L937.2,406.9 L943.0,413.0 L946.6,424.3 L938.4,432.7 L928.5,435.4 L927.5,451.7 L921.4,462.3 L921.0,472.0 L922.0,480.7 L929.0,488.0 L936.0,494.0 L942.0,499.0 L946.9,508.9 L950.6,520.3 L954.5,528.2 L958.0,536.0 L960.8,544.0 L968.6,551.9 M968.6,551.9 L966.8,553.0 L968.8,560.2 L960.7,566.2 L956.7,578.3 L950.6,590.5 L946.6,600.5 L944.3,604.6 L934.5,620.7 L926.4,636.9 L924.4,649.0 L925.0,657.0 L927.0,665.0 L928.4,671.2 L924.4,685.3 L918.3,697.4 L916.5,710.1 M916.5,710.1 L956.3,710.1 L955.2,718.0 L957.0,726.0 L957.3,730.0 M937.2,406.9 L998.8,406.9 M933.8,296.1 L934.7,298.5 L945.0,303.9 L958.5,307.3 L974.2,311.7 L987.6,316.2 L994.3,325.2 L998.8,334.2 L1001.0,339.0 M1002.4,426.3 L1002.2,489.0 L999.5,494.3 L1003.0,505.0 L995.9,517.6 L990.5,528.4 L988.7,535.6 M968.6,551.9 L970.8,546.3 L983.3,542.7 L988.7,535.6 L992.3,528.4 L1003.0,526.6 L1013.8,528.4 L1026.4,521.2 L1033.5,524.8 L1042.5,515.8 L1049.7,505.1 L1056.9,503.3 L1067.6,496.1 L1076.6,503.3 L1085.6,506.9 L1099.9,506.9 L1107.1,512.2 L1114.3,503.3 L1121.4,494.3 L1130.4,488.9 L1139.4,483.5 L1144.8,474.6 L1146.5,458.4 L1148.3,454.8 L1150.4,455.9 M1059.7,428.0 L1059.8,503.5 M1019.0,426.5 L1059.7,428.0 L1087.8,426.3 M1150.6,420.1 L1150.4,455.9 L1150.4,480.2 M1150.4,480.2 L1250.0,480.2 M1165.6,413.5 L1165.6,420.1 L1259.0,420.1 M1259.0,420.1 L1265.2,427.9 L1270.0,437.3 L1263.7,446.8 L1262.1,456.2 L1268.4,462.4 L1273.1,470.3 L1266.8,475.0 L1262.0,480.0 M1270.0,436.5 L1279.4,440.5 L1287.2,445.5 M1250.0,480.2 L1250.0,513.7 L1266.5,513.7 M961.1,562.0 L1125.9,562.5 L1248.3,563.8 M1083.8,562.5 L1098.8,552.4 L1115.3,540.6 L1117.7,540.6 L1127.1,545.3 L1141.2,543.0 L1150.6,538.3 L1157.7,528.9 L1167.1,514.7 L1176.5,510.0 L1183.6,500.6 L1193.0,491.2 L1197.7,486.5 L1205.0,489.0 L1210.0,490.8 M1107.1,512.2 L1105.3,517.6 L1108.9,526.6 L1114.3,535.6 L1117.7,540.6 M1172.2,480.2 L1172.2,490.0 L1180.0,487.0 L1190.0,484.0 L1200.0,487.0 L1210.0,490.8 L1222.0,498.0 L1230.0,505.0 L1240.0,512.0 L1248.0,520.0 M1127.1,563.0 L1124.7,566.5 L1110.6,575.9 L1094.1,585.3 L1080.0,591.2 L1072.0,598.0 L1070.3,604.6 M944.3,604.6 L1070.3,604.6 L1095.8,604.6 M1091.8,605.4 L1101.2,620.7 L1110.6,634.8 L1122.4,648.9 L1131.8,660.7 L1136.5,672.4 L1141.2,679.5 M1091.8,605.4 L1103.5,600.6 L1134.1,599.0 L1141.2,601.8 L1145.9,608.9 L1169.5,610.1 L1183.6,620.7 L1193.0,632.4 M1043.3,604.6 L1048.0,640.0 L1050.8,654.1 L1055.1,676.7 L1053.7,690.8 L1057.9,717.7 M1057.9,717.7 L1115.8,724.7 L1118.6,716.3 L1129.9,714.5 M1001.2,710.1 L1057.0,710.1 M1001.2,710.1 L1001.5,721.5 L1002.0,726.0 M988.5,604.6 L984.2,700.0 L985.3,723.7 L986.0,728.0 M853.3,565.1 L947.4,565.1 L947.5,570.0 L946.0,578.3 L957.5,578.3 M1301.5,340.9 L1300.3,358.7 L1301.5,378.4 L1302.8,398.1 L1300.3,417.8 L1296.6,440.0 M1340.4,340.9 L1338.5,343.0 L1336.1,351.3 L1328.7,358.7 L1326.2,371.0 L1321.3,383.3 L1318.8,398.4 M1349.2,333.0 L1350.0,345.0 L1351.5,365.0 L1353.3,393.2 M1302.8,398.6 L1345.9,399.4 L1353.3,395.7 M1300.3,417.8 L1336.1,417.8 L1343.5,418.5 L1345.9,430.2 M1336.1,417.8 L1336.1,432.6" fill="none" stroke="#000" stroke-width="3" stroke-linejoin="round" stroke-linecap="round"/>
<path d="M259,234 L264,234 L265,240 L268,244 L269,250 L271,252 L274,256 L274,262 L272,268 L271,272 L272,280 L270,286 L265,289 L258,288 L254,285 L252,280 L254,272 L258,262 L257,256 L253,252 L251.5,247 L254,243 L258,242 L259,238Z" fill="#000"/>
<path d="M1288,450.5 L1300,447.5 L1316,444.5 L1333,441 L1336,443.5 L1318,450.5 L1301,455.5 L1289,457Z" fill="#ffad50" stroke="#000" stroke-width="3" stroke-linejoin="round"/>
<path d="M1249.4,479 L1243.8,484.6 L1234.8,490.2 L1232.6,493.5 L1237.1,499.1 L1233.7,503.6 L1231.5,512.6 L1227,514.8 L1223.6,517.1 L1228.1,521.6 L1232.6,523.8 L1237.1,528.3 L1238.2,535 L1234.8,539.5 L1229.2,537.3 L1227,542.9 L1230.4,546.2 L1237.1,550.7 L1240.4,555.2 L1244,553" fill="none" stroke="#000" stroke-width="3.6" stroke-linejoin="round" stroke-linecap="round"/>
<path d="M1206.8,490.2 L1215.8,495.8 L1222.5,500.3 L1225.9,502.5 L1221.4,507 L1218,512.6 L1221.4,514.8 L1227,514.8" fill="none" stroke="#000" stroke-width="3.6" stroke-linejoin="round" stroke-linecap="round"/>
<path d="M1251.7,479 L1253.9,486.8 L1252.8,498 L1252.8,512.6 L1250.5,517.1 L1246.1,519.3 L1248.3,526.1 L1246.1,532.8 L1248.3,539.5 L1246.1,548.5" fill="none" stroke="#000" stroke-width="3.6" stroke-linejoin="round" stroke-linecap="round"/>
<path d="M1240,505 L1236,512 L1240,518" fill="none" stroke="#000" stroke-width="3.6" stroke-linejoin="round" stroke-linecap="round"/>
<path d="M1245,490 L1241,500 L1244,508" fill="none" stroke="#000" stroke-width="3.6" stroke-linejoin="round" stroke-linecap="round"/>
<ellipse cx="955" cy="730.5" rx="11.5" ry="4" fill="#fff" stroke="#000" stroke-width="2.8"/>
<circle cx="1107" cy="791.5" r="4.2" fill="#000"/>
<circle cx="1114.5" cy="818" r="3.2" fill="#000"/>
<circle cx="1139.5" cy="861" r="3.6" fill="#000"/>
<path d="M1099,880.5 L1114,879.5 L1129,876.5 L1143,871.5 L1154,865" fill="none" stroke="#d9d3ea" stroke-width="2.2" stroke-dasharray="3 2" stroke-linecap="round"/>
<path d="M1354,436 L1359,434 L1363,436 L1360,439 L1355,439Z" fill="#000" stroke="#000" stroke-width="2"/>
<path d="M1368,439 L1373,437.5 L1375,440 L1370,442Z" fill="#000" stroke="#000" stroke-width="2"/>
<ellipse cx="1045" cy="341.5" rx="2.6" ry="5.2" transform="rotate(20 1045 341.5)" fill="#000"/>
<path d="M1033,336 L1036,331 L1038,334 L1035,339Z" fill="#b3b3b3"/>
<path d="M1040,322 L1044,319 L1046,322 L1042,325Z" fill="#b3b3b3"/>
<path d="M1037,327 L1040,325 L1041,328 L1038,330Z" fill="#b3b3b3"/>
<path d="M264.4,521 L270,520.5 L274.2,523.4 L276,530 L276.7,538.2 L272,539 L269.3,535.7 L266.8,528.3Z" fill="#000"/>
<path d="M1230.7,568.9 L1233,576 L1242.4,573.6 L1244.8,580.6 L1235.4,583 L1230.7,592.4 L1240.1,590.1" fill="none" stroke="#000" stroke-width="3.4" stroke-linejoin="round" stroke-linecap="round"/>
<path d="M1226,597.1 L1233,601.8 L1221.2,608.9 L1216.5,611.2" fill="none" stroke="#000" stroke-width="3.4" stroke-linejoin="round" stroke-linecap="round"/>
<path d="M1221.2,514.7 L1230,520 L1240,528.9" fill="none" stroke="#000" stroke-width="3.4" stroke-linejoin="round" stroke-linecap="round"/>
<path d="M1223.6,535.9 L1232,537 L1242.4,540.6" fill="none" stroke="#000" stroke-width="3.4" stroke-linejoin="round" stroke-linecap="round"/>
<path d="M1226,545.3 L1235,548 L1244.8,552.4" fill="none" stroke="#000" stroke-width="3.4" stroke-linejoin="round" stroke-linecap="round"/>
<path d="M1244,495 L1240,505 L1244,512 L1240,522 L1245,530 L1242,540" fill="none" stroke="#000" stroke-width="3.4" stroke-linejoin="round" stroke-linecap="round"/>
<g class="txt"><text class="lt" x="1478.7" y="323">Earliest date</text>
<text class="lt" x="1478.7" y="350.8">of OW gen.</text>
<text class="lt" x="1478.7" y="378.7">first egg</text>
<text class="lt" x="1478.7" y="406.7">laying</text>
<rect x="1479" y="421.00" width="26" height="25.75" fill="#4d4d4d"/>
<text x="1515.8" y="440.53" class="lg">excl.-sev.</text>
<rect x="1479" y="446.45" width="26" height="25.75" fill="#b3b3b3"/>
<text x="1515.8" y="465.98" class="lg">excl.-mod.</text>
<rect x="1479" y="471.90" width="26" height="25.75" fill="#d9d3ea"/>
<text x="1515.8" y="491.43" class="lg">Jan-26</text>
<rect x="1479" y="497.35" width="26" height="25.75" fill="#aaf5e0"/>
<text x="1515.8" y="516.88" class="lg">Feb-03</text>
<rect x="1479" y="522.80" width="26" height="25.75" fill="#8ce6d2"/>
<text x="1515.8" y="542.32" class="lg">Feb-09</text>
<rect x="1479" y="548.25" width="26" height="25.75" fill="#6fd6c4"/>
<text x="1515.8" y="567.77" class="lg">Feb-16</text>
<rect x="1479" y="573.70" width="26" height="25.75" fill="#54c4b6"/>
<text x="1515.8" y="593.23" class="lg">Feb-23</text>
<rect x="1479" y="599.15" width="26" height="25.75" fill="#baf7c2"/>
<text x="1515.8" y="618.67" class="lg">Mar-02</text>
<rect x="1479" y="624.60" width="26" height="25.75" fill="#8fd49a"/>
<text x="1515.8" y="644.12" class="lg">Mar-09</text>
<rect x="1479" y="650.05" width="26" height="25.75" fill="#65a86e"/>
<text x="1515.8" y="669.57" class="lg">Mar-16</text>
<rect x="1479" y="675.50" width="26" height="25.75" fill="#3d7a42"/>
<text x="1515.8" y="695.02" class="lg">Mar-23</text>
<rect x="1479" y="700.95" width="26" height="25.75" fill="#185020"/>
<text x="1515.8" y="720.48" class="lg">Mar-30</text>
<rect x="1479" y="726.40" width="26" height="25.75" fill="#ccff00"/>
<text x="1515.8" y="745.92" class="lg">Apr-06</text>
<rect x="1479" y="751.85" width="26" height="25.75" fill="#a9ef00"/>
<text x="1515.8" y="771.37" class="lg">Apr-13</text>
<rect x="1479" y="777.30" width="26" height="25.75" fill="#86e000"/>
<text x="1515.8" y="796.82" class="lg">Apr-20</text>
<rect x="1639" y="421.00" width="26" height="25.75" fill="#55d000"/>
<text x="1675.8" y="440.53" class="lg">Apr-27</text>
<rect x="1639" y="446.45" width="26" height="25.75" fill="#ffff00"/>
<text x="1675.8" y="465.98" class="lg">May-04</text>
<rect x="1639" y="471.90" width="26" height="25.75" fill="#e0d800"/>
<text x="1675.8" y="491.43" class="lg">May-11</text>
<rect x="1639" y="497.35" width="26" height="25.75" fill="#bfad00"/>
<text x="1675.8" y="516.88" class="lg">May-18</text>
<rect x="1639" y="522.80" width="26" height="25.75" fill="#a08400"/>
<text x="1675.8" y="542.32" class="lg">May-25</text>
<rect x="1639" y="548.25" width="26" height="25.75" fill="#ffd890"/>
<text x="1675.8" y="567.77" class="lg">Jun-01</text>
<rect x="1639" y="573.70" width="26" height="25.75" fill="#ffc470"/>
<text x="1675.8" y="593.23" class="lg">Jun-08</text>
<rect x="1639" y="599.15" width="26" height="25.75" fill="#ffad50"/>
<text x="1675.8" y="618.67" class="lg">Jun-15</text>
<rect x="1639" y="624.60" width="26" height="25.75" fill="#ff9530"/>
<text x="1675.8" y="644.12" class="lg">Jun-22</text>
<rect x="1639" y="650.05" width="26" height="25.75" fill="#ff7f10"/>
<text x="1675.8" y="669.57" class="lg">Jun-29</text>
<rect x="1639" y="675.50" width="26" height="25.75" fill="#f5c8cc"/>
<text x="1675.8" y="695.02" class="lg">Jul-06</text>
<rect x="1639" y="700.95" width="26" height="25.75" fill="#f59a9c"/>
<text x="1675.8" y="720.48" class="lg">Jul-13</text>
<rect x="1639" y="726.40" width="26" height="25.75" fill="#f56464"/>
<text x="1675.8" y="745.92" class="lg">Jul-20</text>
<rect x="1639" y="751.85" width="26" height="25.75" fill="#f53232"/>
<text x="1675.8" y="771.37" class="lg">Jul-27</text>
<rect x="1639" y="777.30" width="26" height="25.75" fill="#e6b4aa"/>
<text x="1675.8" y="796.82" class="lg">Aug-03</text>
<rect x="1766" y="421.00" width="26" height="25.75" fill="#cd9080"/>
<text x="1802.8" y="440.53" class="lg">Aug-10</text>
<rect x="1766" y="446.45" width="26" height="25.75" fill="#b46a5a"/>
<text x="1802.8" y="465.98" class="lg">Aug-17</text>
<rect x="1766" y="471.90" width="26" height="25.75" fill="#9b4432"/>
<text x="1802.8" y="491.43" class="lg">Aug-24</text>
<rect x="1766" y="497.35" width="26" height="25.75" fill="#82200e"/>
<text x="1802.8" y="516.88" class="lg">Aug-31</text>
<rect x="1766" y="522.80" width="26" height="25.75" fill="#ffaadc"/>
<text x="1802.8" y="542.32" class="lg">Sep-07</text>
<rect x="1766" y="548.25" width="26" height="25.75" fill="#ff80e0"/>
<text x="1802.8" y="567.77" class="lg">Sep-14</text>
<rect x="1766" y="573.70" width="26" height="25.75" fill="#ff55e6"/>
<text x="1802.8" y="593.23" class="lg">Sep-21</text>
<rect x="1766" y="599.15" width="26" height="25.75" fill="#ff20ee"/>
<text x="1802.8" y="618.67" class="lg">Sep-28</text>
<rect x="1766" y="624.60" width="26" height="25.75" fill="#e0c0e8"/>
<text x="1802.8" y="644.12" class="lg">Oct-06</text>
<rect x="1766" y="650.05" width="26" height="25.75" fill="#c896dc"/>
<text x="1802.8" y="669.57" class="lg">Oct-16</text>
<rect x="1766" y="675.50" width="26" height="25.75" fill="#b46ed0"/>
<text x="1802.8" y="695.02" class="lg">Oct-24</text>
<rect x="1766" y="700.95" width="26" height="25.75" fill="#b8ecfc"/>
<text x="1802.8" y="720.48" class="lg">Nov-05</text>
<rect x="1766" y="726.40" width="26" height="25.75" fill="#88d4f0"/>
<text x="1802.8" y="745.92" class="lg">Nov-18</text></g>
</svg>
</body></html>
